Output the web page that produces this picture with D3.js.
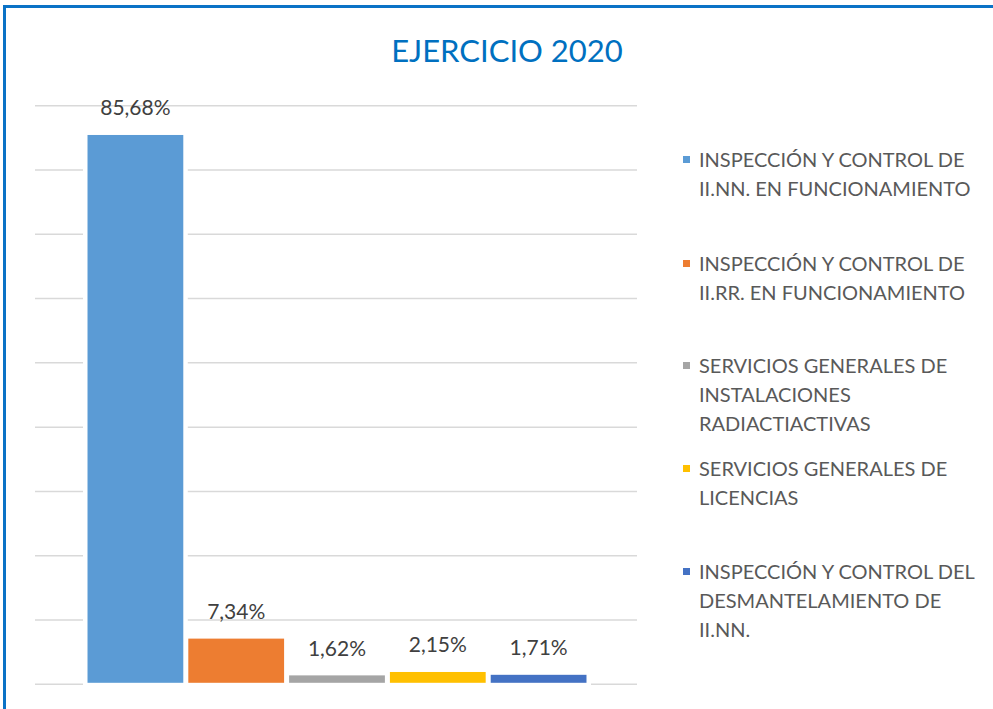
<!DOCTYPE html>
<html>
<head>
<meta charset="utf-8">
<script src="https://cdn.jsdelivr.net/npm/d3@7"></script>
<style>
  html, body { margin: 0; padding: 0; background: #fff; }
  svg { display: block; }
</style>
</head>
<body>
<div id="chart"></div>
<script>
// series names (legend), values in %, colours
var series = [
  ["INSPECCIÓN Y CONTROL DE", "II.NN. EN FUNCIONAMIENTO"],
  ["INSPECCIÓN Y CONTROL DE", "II.RR. EN FUNCIONAMIENTO"],
  ["SERVICIOS GENERALES DE", "INSTALACIONES", "RADIACTIACTIVAS"],
  ["SERVICIOS GENERALES DE", "LICENCIAS"],
  ["INSPECCIÓN Y CONTROL DEL", "DESMANTELAMIENTO DE", "II.NN."]
];
var values = [85.68, 7.34, 1.62, 2.15, 1.71];
var labels = ["85,68%", "7,34%", "1,62%", "2,15%", "1,71%"];
var colors = ["#5B9BD5", "#ED7D31", "#A5A5A5", "#FFC000", "#4472C4"];
var yTicks = [0, 10, 20, 30, 40, 50, 60, 70, 80, 90];
var legendY = [160, 264, 366, 469, 572];

var W = 993, H = 709;
var font = "Lato, 'Open Sans', sans-serif";

var svg = d3.select("#chart").append("svg")
  .attr("width", W).attr("height", H);

// frame (only top and left edges show)
svg.append("path")
  .attr("d", "M4.5," + H + " V6.5 H" + W)
  .attr("fill", "none")
  .attr("stroke", "#0A72C6")
  .attr("stroke-width", 3);

svg.append("text")
  .attr("x", 507).attr("y", 62)
  .attr("text-anchor", "middle")
  .attr("font-family", font)
  .attr("font-size", 31)
  .attr("fill", "#0070C0")
  .text("EJERCICIO 2020");

var y = d3.scaleLinear().domain([0, 90]).range([684.3, 105.7]);
var x = d3.scaleBand()
  .domain(d3.range(values.length))
  .range([85, 589])
  .paddingInner(0.02)
  .paddingOuter(0.01);

// gridlines
svg.append("g").selectAll("line").data(yTicks).join("line")
  .attr("x1", 35).attr("x2", 637)
  .attr("y1", function (d) { return y(d); })
  .attr("y2", function (d) { return y(d); })
  .attr("stroke", "#D9D9D9")
  .attr("stroke-width", 1.5);

// white gap in the gridlines around each bar
svg.append("g").selectAll("rect").data(values).join("rect")
  .attr("x", function (d, i) { return x(i) - 3; })
  .attr("y", function (d) { return y(d); })
  .attr("width", x.bandwidth() + 6)
  .attr("height", function (d) { return y(0) - y(d) + 1.5; })
  .attr("fill", "#fff");

svg.append("g").selectAll("rect").data(values).join("rect")
  .attr("x", function (d, i) { return x(i); })
  .attr("y", function (d) { return y(d); })
  .attr("width", x.bandwidth())
  .attr("height", function (d) { return y(0) - y(d); })
  .attr("fill", function (d, i) { return colors[i]; })
  .attr("stroke", "#fff")
  .attr("stroke-width", 3);

// data labels
svg.append("g").selectAll("text").data(values).join("text")
  .attr("x", function (d, i) { return x(i) + x.bandwidth() / 2; })
  .attr("y", function (d) { return y(d) - 18; })
  .attr("text-anchor", "middle")
  .attr("font-family", font)
  .attr("font-size", 21)
  .attr("fill", "#404040")
  .text(function (d, i) { return labels[i]; });

// legend
var leg = svg.append("g").selectAll("g").data(series).join("g")
  .attr("transform", function (d, i) { return "translate(0," + legendY[i] + ")"; });

leg.append("rect")
  .attr("x", 683).attr("y", -4)
  .attr("width", 7).attr("height", 7)
  .attr("fill", function (d, i) { return colors[i]; });

leg.each(function (d) {
  d3.select(this).selectAll("text").data(d).join("text")
    .attr("x", 699)
    .attr("y", function (t, j) { return j * 29 + 7; })
    .attr("font-family", font)
    .attr("font-size", 20)
    .attr("fill", "#595959")
    .text(function (t) { return t; });
});
</script>
</body>
</html>
